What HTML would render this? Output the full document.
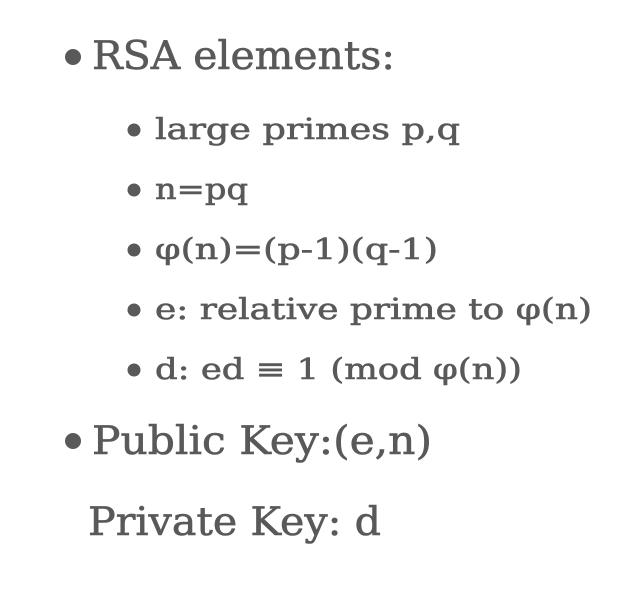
<!DOCTYPE html>
<html><head><meta charset="utf-8"><style>
html,body{margin:0;padding:0;background:#fff;}
svg{display:block}
text{font-family:"DejaVu Serif","Liberation Serif",serif;fill:#595959;stroke:#595959;stroke-width:0.6;}
</style></head><body>
<svg width="635" height="594" viewBox="0 0 635 594" xmlns="http://www.w3.org/2000/svg">
<circle cx="73" cy="57" r="8" fill="#595959"/>
<text x="92" y="69" font-size="39" textLength="303" lengthAdjust="spacingAndGlyphs">RSA elements:</text>

<circle cx="134" cy="130" r="6.5" fill="#595959"/>
<text x="155" y="139" font-size="29" textLength="305" lengthAdjust="spacingAndGlyphs">large primes p,q</text>
<circle cx="134" cy="190" r="6.5" fill="#595959"/>
<text x="155" y="199" font-size="29" textLength="93" lengthAdjust="spacingAndGlyphs">n=pq</text>
<circle cx="134" cy="250" r="6.5" fill="#595959"/>
<text x="155" y="259" font-size="29" textLength="283" lengthAdjust="spacingAndGlyphs">φ(n)=(p-1)(q-1)</text>
<circle cx="134" cy="310" r="6.5" fill="#595959"/>
<text x="155" y="319" font-size="29" textLength="437" lengthAdjust="spacingAndGlyphs">e: relative prime to φ(n)</text>
<circle cx="134" cy="370" r="6.5" fill="#595959"/>
<text x="155" y="379" font-size="29" textLength="367" lengthAdjust="spacingAndGlyphs">d: ed ≡ 1 (mod φ(n))</text>

<circle cx="73" cy="441" r="8" fill="#595959"/>
<text x="92" y="454" font-size="39" textLength="340" lengthAdjust="spacingAndGlyphs">Public Key:(e,n)</text>
<text x="88" y="535" font-size="39" textLength="293" lengthAdjust="spacingAndGlyphs">Private Key: d</text>
</svg>
</body></html>
